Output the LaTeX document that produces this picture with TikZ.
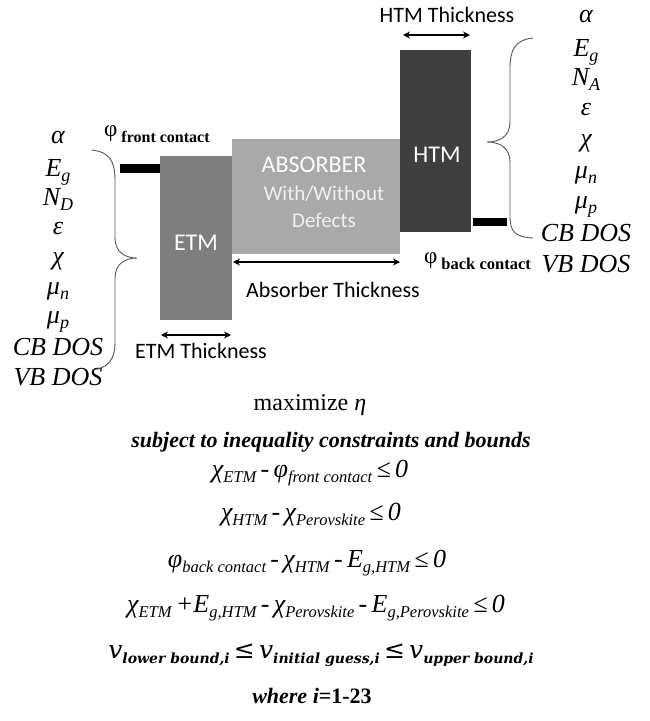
\documentclass[tikz,border=0pt]{standalone}
\usepackage{fontspec}
\usepackage{graphicx}
\setmainfont{Liberation Serif}
\newfontfamily\carl{Carlito}
\newfontfamily\dvs{DejaVu Serif}
\usetikzlibrary{arrows.meta,calc}
\newcommand\lsb[2][16.5]{\raisebox{-0.22em}{\fontsize{#1}{#1}\selectfont #2}}
\definecolor{etmc}{HTML}{7E7E7E}
\definecolor{absc}{HTML}{A9A9A9}
\definecolor{htmc}{HTML}{3F3F3F}
\definecolor{bracec}{HTML}{555555}
\begin{document}
\begin{tikzpicture}[x=1pt,y=-1pt,
  box/.style={inner sep=0pt, outer sep=0pt, anchor=north west, draw=none},
  lbl/.style={font=\carl\fontsize{24}{28}\selectfont, text=white, anchor=base, inner sep=0pt},
  sublbl/.style={font=\carl\fontsize{21}{25}\selectfont, text=white!94!black, anchor=base, inner sep=0pt},
  dimtext/.style={font=\carl\fontsize{22}{26}\selectfont, anchor=base, inner sep=0pt},
  param/.style={font=\itshape\fontsize{26}{30}\selectfont, anchor=base, inner sep=0pt},
  eqn/.style={font=\itshape\fontsize{26}{30}\selectfont, anchor=base, inner sep=0pt},
  dimarrow/.style={{Stealth[length=7pt,width=7pt]}-{Stealth[length=7pt,width=7pt]}, line width=1.6pt},
  brace/.style={draw=bracec, line width=0.9pt},
]
\useasboundingbox (0,0) rectangle (650,721);

% boxes
\node[box, fill=etmc, minimum width=72pt, minimum height=164pt] (etm) at (160,156) {};
\node[box, fill=absc, minimum width=168pt, minimum height=115pt] (abs) at (232,139) {};
\node[box, fill=htmc, minimum width=71pt, minimum height=182pt] (htm) at (400,50) {};
\node[box, fill=black, minimum width=40pt, minimum height=9pt] (fbar) at (120,164) {};
\node[box, fill=black, minimum width=34pt, minimum height=8pt] (bbar) at (473,218) {};

% box labels
\node[lbl] (etmt) at (196,250) {ETM};
\node[lbl] (htmt) at (437,162) {HTM};
\node[lbl] (abst) at (314,172) {ABSORBER};
\node[sublbl] (abs2) at (324,200) {With/Without};
\node[sublbl] (abs3) at (324,227) {Defects};

% dimension arrows
\draw[dimarrow] ($(etm.south west)+(1,15)$) -- ($(etm.south east)+(-1,15)$);
\draw[dimarrow] ($(abs.south west)+(1,8)$) -- ($(abs.south east)+(0,8)$);
\draw[dimarrow] ($(htm.north west)+(3,-15)$) -- ($(htm.north east)+(-1,-15)$);
\node[dimtext] (etmd) at (201,358) {ETM Thickness};
\node[dimtext] (absd) at (333,297) {Absorber Thickness};
\node[dimtext] (htmd) at (447,22) {HTM Thickness};

% contact labels
\node[anchor=base west, inner sep=0pt] (fc) at (104,136) {\fontsize{23}{26}\selectfont φ\hspace{4pt}\raisebox{-0.3em}{\bfseries\fontsize{16}{18}\selectfont front contact}};
\node[anchor=base west, inner sep=0pt] (bc) at (424,263) {\fontsize{23}{26}\selectfont φ\hspace{4pt}\raisebox{-0.3em}{\bfseries\fontsize{16.5}{18}\selectfont back contact}};

% left parameter list
\node[param] (l1) at (58,143) {α};
\node[param] (l2) at (58,176) {E\lsb[18]{g}};
\node[param] (l3) at (58,205) {N\lsb[18]{D}};
\node[param] (l4) at (58,234) {ε};
\node[param] (l5) at (58,264) {χ};
\node[param] (l6) at (58,294) {μ\lsb[18]{n}};
\node[param] (l7) at (58,323) {μ\lsb[18]{p}};
\node[param] (l8) at (58,355) {CB DOS};
\node[param] (l9) at (58,385) {VB DOS};

% right parameter list
\node[param] (r1) at (586,22) {α};
\node[param] (r2) at (586,56) {E\lsb[18]{g}};
\node[param] (r3) at (586,85) {N\lsb[18]{A}};
\node[param] (r4) at (586,115) {ε};
\node[param] (r5) at (586,146) {χ};
\node[param] (r6) at (586,178) {μ\lsb[18]{n}};
\node[param] (r7) at (586,208) {μ\lsb[18]{p}};
\node[param] (r8) at (586,241) {CB DOS};
\node[param] (r9) at (586,272) {VB DOS};

% braces
\draw[brace] (92,150) .. controls (110,152) and (115,162) .. (115,180) -- (115,238)
  .. controls (115,252) and (125,258) .. (137,258)
  .. controls (125,258) and (115,264) .. (115,278) -- (115,342)
  .. controls (115,360) and (108,368) .. (92,370);
\draw[brace] (533,38) .. controls (515,40) and (510,50) .. (510,68) -- (510,122)
  .. controls (510,136) and (500,142) .. (487,142)
  .. controls (500,142) and (510,148) .. (510,162) -- (510,216)
  .. controls (510,232) and (515,237) .. (533,238);

% optimisation problem
\node[anchor=base, inner sep=0pt] (max) at (310,410) {\fontsize{24}{27}\selectfont maximize \textit{η}};
\node[anchor=base, inner sep=0pt] (subj) at (331,447) {\bfseries\itshape\fontsize{22}{26}\selectfont subject to inequality constraints and bounds};
\node[eqn] (c1) at (310,477) {χ\lsb{ETM}\,-\,φ\lsb{front contact}\,≤\,0};
\node[eqn] (c2) at (311,520) {χ\lsb{HTM}\,-\,χ\lsb{Perovskite}\,≤\,0};
\node[eqn] (c3) at (307,567) {φ\lsb{back contact}\,-\,χ\lsb{HTM}\,-\,E\lsb{g,HTM}\,≤\,0};
\node[eqn] (c4) at (316,612) {χ\lsb{ETM}\,+E\lsb{g,HTM}\,-\,χ\lsb{Perovskite}\,-\,E\lsb{g,Perovskite}\,≤\,0};
\node[anchor=base, inner sep=0pt] (c5) at (321,658) {\dvs\itshape\fontsize{25}{28}\selectfont v\lsb[14]{\bfseries lower bound,i}\,≤\,v\lsb[14]{\bfseries initial guess,i}\,≤\,v\lsb[14]{\bfseries upper bound,i}};
\node[anchor=base, inner sep=0pt] (wh) at (312,703) {\fontsize{22}{26}\selectfont\bfseries\textit{where i}=1-23};
\end{tikzpicture}
\end{document}
